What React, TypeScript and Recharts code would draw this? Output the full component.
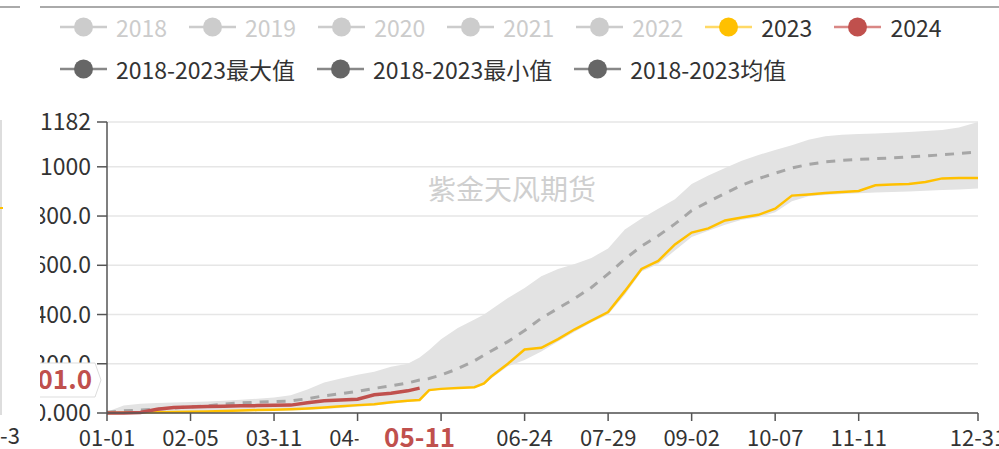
import { ComposedChart, Area, Line, XAxis, YAxis, CartesianGrid, ReferenceLine, Legend } from 'recharts';

// day of year (2024 calendar, 0 = 01-01)
const DAYS = [
  0, 7, 14, 21, 28, 35, 42, 49, 56, 63, 70, 77, 84, 91, 98, 105, 112, 119, 126,
  131, 135, 140, 147, 154, 158, 161,
  168, 175, 182, 189, 196, 203, 210, 217, 224, 231, 238, 245, 252, 259, 266, 273,
  280, 287, 294, 301, 308, 315, 322, 329, 336, 343, 350, 357, 365,
];

const MAX_2018_2023 = [
  5, 30, 38, 41, 43, 45, 47, 50, 54, 58, 63, 72, 95, 124, 140, 155, 168, 188, 200,
  225, 256, 300, 345, 380, 400, 420,
  467, 508, 555, 585, 605, 630, 668, 745, 790, 830, 868, 930, 965, 995, 1025, 1048,
  1068, 1088, 1110, 1124, 1130, 1133, 1135, 1138, 1141, 1145, 1150, 1160, 1182,
];

const MIN_2018_2023 = [
  0, 0, 0, 1, 2, 3, 4, 5, 6, 8, 9, 10, 12, 16, 20, 25, 30, 38, 45,
  50, 88, 95, 100, 103, 115, 140,
  190, 215, 250, 290, 330, 368, 400, 480, 575, 605, 660, 715, 740, 765, 785, 795,
  815, 860, 880, 885, 890, 893, 896, 898, 900, 903, 906, 908, 912,
];

const MEAN_2018_2023 = [
  3, 9, 12, 16, 20, 25, 29, 36, 41, 44, 46, 49, 58, 70, 78, 88, 100, 110, 122,
  134, 140, 154, 180, 212, 235, 252,
  290, 335, 385, 425, 465, 510, 565, 625, 678, 720, 768, 822, 858, 892, 925, 952,
  974, 995, 1010, 1020, 1026, 1030, 1033, 1036, 1040, 1044, 1049, 1054, 1060,
];

const SERIES_2023 = [
  0, 1, 2, 3, 4, 5, 6, 8, 10, 12, 13, 15, 18, 22, 27, 32, 36, 44, 50,
  53, 93, 98, 102, 105, 120, 148,
  200, 258, 265, 300, 340, 375, 410, 495, 585, 618, 685, 733, 750, 782, 794, 805,
  830, 883, 888, 894, 898, 902, 925, 928, 930, 938, 953, 955, 955,
];

// 2024 runs up to 05-11
const SERIES_2024 = [
  0, 0, 2, 15, 22, 24, 26, 27, 29, 30, 31, 32, 42, 50, 53, 56, 74, 80, 90, 101,
];

const X_TICKS = [0, 35, 70, 105, 140, 175, 210, 245, 280, 315, 365];
const X_TICK_LABELS = ['01-01', '02-05', '03-11', '04-15', '05-20', '06-24', '07-29', '09-02', '10-07', '11-11', '12-31'];
const Y_TICKS = [0, 200, 400, 600, 800, 1000, 1182];
const Y_TICK_LABELS = ['0.000', '200.0', '400.0', '600.0', '800.0', '1000', '1182'];

const POINTER_DAY = 131;
const POINTER_DAY_LABEL = '05-11';
const POINTER_VALUE = 134;
const POINTER_VALUE_LABEL = '101.0';

const LEGEND_ROWS = [
  [
    { name: '2018', line: '#ccc', dot: '#ccc', text: '#ccc' },
    { name: '2019', line: '#ccc', dot: '#ccc', text: '#ccc' },
    { name: '2020', line: '#ccc', dot: '#ccc', text: '#ccc' },
    { name: '2021', line: '#ccc', dot: '#ccc', text: '#ccc' },
    { name: '2022', line: '#ccc', dot: '#ccc', text: '#ccc' },
    { name: '2023', line: '#ffd966', dot: '#ffc000', text: '#333' },
    { name: '2024', line: '#d98785', dot: '#c0504d', text: '#333' },
  ],
  [
    { name: '2018-2023最大值', line: '#888', dot: '#666', text: '#333' },
    { name: '2018-2023最小值', line: '#888', dot: '#666', text: '#333' },
    { name: '2018-2023均值', line: '#888', dot: '#666', text: '#333' },
  ],
];

const FONT = "'Noto Sans CJK SC', 'Noto Sans', sans-serif";
const RED = '#c0504d';

const data = DAYS.map((day, i) => ({
  day,
  band: [MIN_2018_2023[i], MAX_2018_2023[i]],
  mean: MEAN_2018_2023[i],
  y2023: SERIES_2023[i],
  y2024: i < SERIES_2024.length ? SERIES_2024[i] : null,
}));

function ChartLegend() {
  return (
    <div style={{ fontFamily: FONT }}>
      {LEGEND_ROWS.map((row, r) => (
        <div key={r} style={{ display: 'flex', alignItems: 'center', height: 42 }}>
          {row.map((item) => (
            <div key={item.name} style={{ display: 'flex', alignItems: 'center', marginRight: 22 }}>
              <svg width={47} height={22} style={{ marginRight: 9 }}>
                <line x1={0} x2={47} y1={11} y2={11} stroke={item.line} strokeWidth={2.5} />
                <circle cx={23.5} cy={11} r={9.5} fill={item.dot} />
              </svg>
              <span style={{ fontSize: 23, color: item.text, whiteSpace: 'nowrap' }}>{item.name}</span>
            </div>
          ))}
        </div>
      ))}
    </div>
  );
}

function PointerXLabel(props: any) {
  const { viewBox } = props;
  const x = viewBox.x;
  const bottom = viewBox.y + viewBox.height;
  return (
    <g>
      <rect x={x - 61} y={bottom + 11} width={122} height={40} fill="#fff" />
      <text x={x} y={bottom + 34} textAnchor="middle" fill={RED} fontWeight="bold" fontSize={26} fontFamily={FONT}>
        {POINTER_DAY_LABEL}
      </text>
    </g>
  );
}

function PointerYLabel(props: any) {
  const { viewBox } = props;
  const x = viewBox.x;
  const y = viewBox.y;
  const pts = `${x - 140},${y - 17} ${x - 12},${y - 17} ${x - 6},${y} ${x - 12},${y + 17} ${x - 140},${y + 17}`;
  return (
    <g>
      <polygon points={pts} fill="#fff" stroke="#ddd" strokeWidth={1} />
      <text x={x - 15} y={y} dy="0.36em" textAnchor="end" fill={RED} fontWeight="bold" fontSize={26} fontFamily={FONT}>
        {POINTER_VALUE_LABEL}
      </text>
    </g>
  );
}

export default function App() {
  return (
    <div style={{ position: 'absolute', left: 0, top: 0, width: 999, height: 449, background: '#fff', overflow: 'hidden', fontFamily: FONT }}>
      {/* edge of the neighbouring panel */}
      <div style={{ position: 'absolute', left: 0, top: 6, width: 20, height: 1.5, background: '#aaa' }} />
      <div style={{ position: 'absolute', left: 40, top: 6, width: 959, height: 1.5, background: '#aaa' }} />
      <div style={{ position: 'absolute', left: 0, top: 120, width: 1.5, height: 295, background: '#ddd' }} />
      <div style={{ position: 'absolute', left: 0, top: 207, width: 3, height: 2, background: '#ffc000' }} />
      <div style={{ position: 'absolute', left: 0, top: 421, fontSize: 22, lineHeight: '26px', color: '#333' }}>-3</div>

      <div style={{ position: 'absolute', left: 40, top: 0, width: 959, height: 449, overflow: 'hidden' }}>
        <div style={{ position: 'absolute', left: -20, top: 0 }}>
          <ComposedChart width={979} height={449} data={data} margin={{ top: 38, right: 21, bottom: 0, left: 0 }}>
            <Legend
              verticalAlign="top"
              content={<ChartLegend />}
              wrapperStyle={{ top: 6, left: 40, width: 940 }}
            />
            <CartesianGrid vertical={false} stroke="#e6e6e6" strokeWidth={1.5} />
            <XAxis
              dataKey="day"
              type="number"
              domain={[0, 365]}
              ticks={X_TICKS}
              interval={0}
              tickFormatter={(v) => X_TICK_LABELS[X_TICKS.indexOf(v)]}
              height={36}
              tickSize={8}
              tickMargin={9}
              stroke="#555"
              strokeWidth={1.5}
              tick={{ fontSize: 22, fill: '#333', fontFamily: FONT }}
            />
            <YAxis
              domain={[0, 1182]}
              ticks={Y_TICKS}
              interval={0}
              tickFormatter={(v) => Y_TICK_LABELS[Y_TICKS.indexOf(v)]}
              width={87}
              tickSize={10}
              tickMargin={6}
              stroke="#555"
              strokeWidth={1.5}
              tick={{ fontSize: 23, fill: '#333', fontFamily: FONT }}
            />
            <Area
              dataKey="band"
              type="linear"
              stroke="none"
              fill="#e3e3e3"
              fillOpacity={1}
              isAnimationActive={false}
              activeDot={false}
            />
            <Line
              dataKey="mean"
              type="linear"
              stroke="#a6a6a6"
              strokeWidth={3}
              strokeDasharray="9 8"
              dot={false}
              activeDot={false}
              isAnimationActive={false}
            />
            <Line
              dataKey="y2023"
              type="linear"
              stroke="#ffc000"
              strokeWidth={2.5}
              dot={false}
              activeDot={false}
              isAnimationActive={false}
            />
            <Line
              dataKey="y2024"
              type="linear"
              stroke={RED}
              strokeWidth={3.5}
              dot={false}
              activeDot={false}
              isAnimationActive={false}
            />
            <ReferenceLine x={POINTER_DAY} stroke="none" zIndex={2000} label={<PointerXLabel />} />
            <ReferenceLine y={POINTER_VALUE} stroke="none" zIndex={2000} label={<PointerYLabel />} />
          </ComposedChart>
        </div>
        <div style={{ position: 'absolute', left: 388, top: 168, fontSize: 28, color: '#cfcfcf', whiteSpace: 'nowrap' }}>
          紫金天风期货
        </div>
      </div>
    </div>
  );
}
